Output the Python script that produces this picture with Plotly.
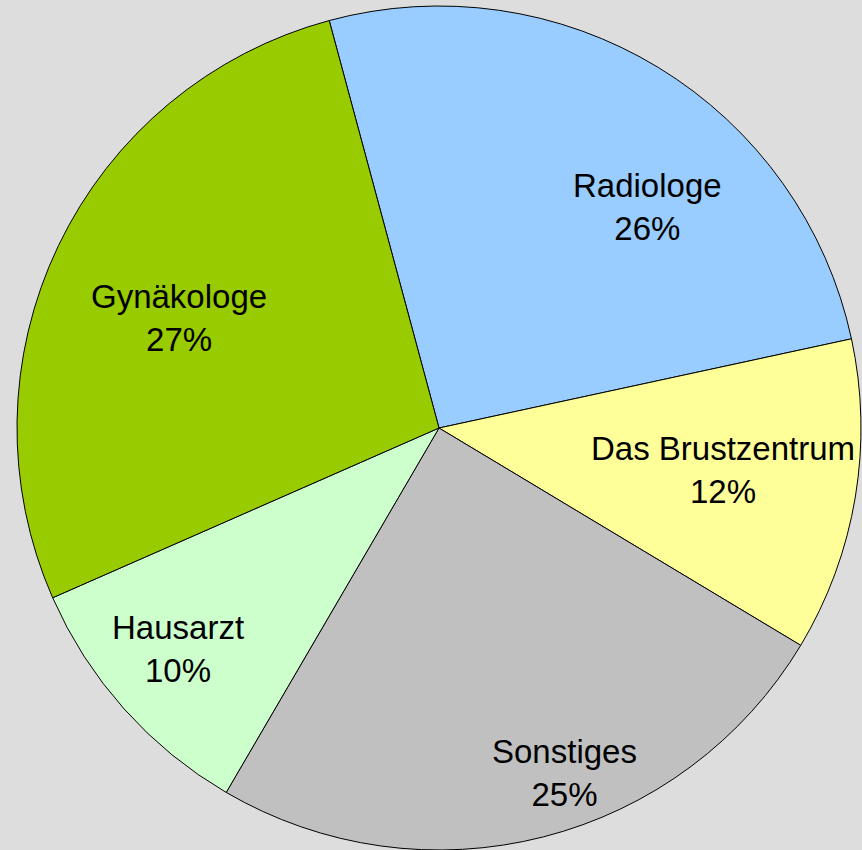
import math
import plotly.graph_objects as go

labels = ["Radiologe", "Das Brustzentrum", "Sonstiges", "Hausarzt", "Gynäkologe"]
values = [25.8, 12.0, 24.8, 10.0, 27.4]
colors = ["#99ccff", "#ffff99", "#c0c0c0", "#ccffcc", "#99cc00"]

# label placement (polar, relative to slice middle)
label_angle_offset = [11.9, -0.9, -5.7, 1.4, -2.6]
label_radius_frac = [0.72, 0.68, 0.87, 0.81, 0.67]

W, H = 862, 850
ML, MT, MR, MB = 16, 6, 0, 0
rotation = -15.08

fig = go.Figure(go.Pie(
    labels=labels,
    values=values,
    sort=False,
    direction="clockwise",
    rotation=rotation,
    marker=dict(colors=colors, line=dict(color="#000000", width=1)),
    textinfo="none",
    hoverinfo="label+percent",
    showlegend=False,
))

pw, ph = W - ML - MR, H - MT - MB
cx, cy = ML + pw / 2, MT + ph / 2
R = min(pw, ph) / 2
total = sum(values)
ang = rotation
annotations = []
for lab, v, off, rf in zip(labels, values, label_angle_offset, label_radius_frac):
    span = v / total * 360
    mid = ang + span / 2 + off
    ang += span
    t = math.radians(mid)
    px = cx + rf * R * math.sin(t)
    py = cy - rf * R * math.cos(t)
    annotations.append(dict(
        x=(px - ML) / pw, y=1 - (py - MT) / ph, xref="paper", yref="paper",
        text=f"{lab}<br>{round(v / total * 100)}%", showarrow=False,
        xanchor="center", yanchor="middle", align="center",
        font=dict(family="Liberation Sans, Arial, sans-serif", size=33, color="#000000"),
    ))

fig.update_layout(
    width=W, height=H,
    margin=dict(l=ML, r=MR, t=MT, b=MB, pad=0),
    paper_bgcolor="#dddddd",
    plot_bgcolor="#dddddd",
    annotations=annotations,
)

fig.write_html(
    "out.html",
    config={"displayModeBar": False},
    post_script="document.body.style.margin='0';document.body.style.background='#dddddd';document.body.style.overflow='hidden';",
)
